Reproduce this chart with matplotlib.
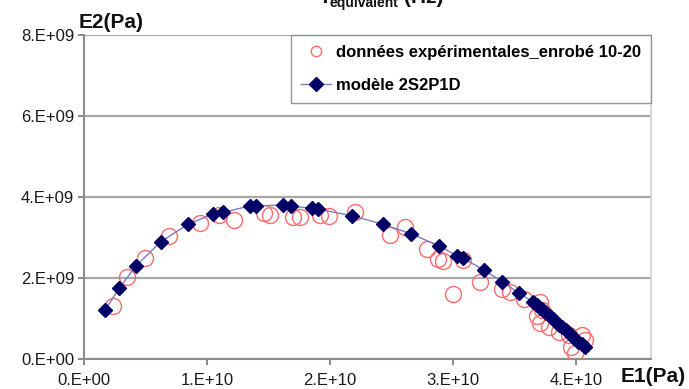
import matplotlib
matplotlib.use("Agg")
import matplotlib.pyplot as plt
from matplotlib.ticker import FixedLocator

plt.rcParams['font.family'] = ['Liberation Sans', 'DejaVu Sans']

# Experimental points (E1, E2) in Pa
exp_E1 = [2.38e9, 3.47e9, 4.96e9, 6.94e9, 9.4e9, 11.0e9, 12.2e9, 14.6e9, 15.1e9,
          17.0e9, 17.6e9, 19.2e9, 19.9e9, 22.0e9, 24.9e9, 26.1e9, 27.9e9, 28.75e9,
          29.2e9, 30.8e9, 30.0e9, 32.2e9, 33.96e9, 34.6e9, 35.8e9, 37.1e9, 36.8e9,
          37.1e9, 37.8e9, 38.6e9, 39.4e9, 40.5e9, 39.6e9, 39.9e9, 40.7e9, 37.2e9]
exp_E2 = [1.32e9, 2.02e9, 2.50e9, 3.03e9, 3.35e9, 3.55e9, 3.43e9, 3.60e9, 3.56e9,
          3.51e9, 3.50e9, 3.56e9, 3.53e9, 3.64e9, 3.06e9, 3.27e9, 2.72e9, 2.47e9,
          2.42e9, 2.44e9, 1.60e9, 1.91e9, 1.74e9, 1.66e9, 1.48e9, 1.41e9, 1.05e9,
          0.88e9, 0.80e9, 0.67e9, 0.59e9, 0.59e9, 0.30e9, 0.14e9, 0.47e9, 1.20e9]

# 2S2P1D model (E1, E2) in Pa
mod_E1 = [1.71e9, 2.87e9, 4.23e9, 6.26e9, 8.48e9, 10.5e9, 11.28e9, 13.5e9, 14.0e9,
          16.15e9, 16.8e9, 18.5e9, 19.05e9, 21.76e9, 24.3e9, 26.6e9, 28.9e9, 30.3e9,
          30.8e9, 32.5e9, 34.0e9, 35.4e9,
          36.5e9, 36.8e9, 37.05e9, 37.3e9, 37.6e9, 37.85e9, 38.1e9, 38.4e9, 38.65e9,
          38.9e9, 39.15e9, 39.4e9, 39.7e9, 39.95e9, 40.2e9, 40.45e9, 40.7e9]
mod_E2 = [1.21e9, 1.75e9, 2.30e9, 2.90e9, 3.33e9, 3.58e9, 3.62e9, 3.78e9, 3.78e9,
          3.80e9, 3.78e9, 3.72e9, 3.70e9, 3.54e9, 3.33e9, 3.09e9, 2.79e9, 2.55e9,
          2.49e9, 2.20e9, 1.91e9, 1.62e9,
          1.41e9, 1.34e9, 1.27e9, 1.20e9, 1.13e9, 1.06e9, 0.99e9, 0.92e9, 0.85e9,
          0.78e9, 0.71e9, 0.64e9, 0.57e9, 0.50e9, 0.43e9, 0.37e9, 0.30e9]

x_ticks = [0, 1e10, 2e10, 3e10, 4e10]
x_tick_labels = ["0.E+00", "1.E+10", "2.E+10", "3.E+10", "4.E+10"]
y_ticks = [0, 2e9, 4e9, 6e9, 8e9]
y_tick_labels = ["0.E+00", "2.E+09", "4.E+09", "6.E+09", "8.E+09"]

fig = plt.figure(figsize=(6.89, 3.89), dpi=100)
ax = fig.add_axes([84 / 689, 1 - 359 / 389, 567 / 689, 324 / 389])

ax.plot(exp_E1, exp_E2, linestyle='none', marker='o', markersize=11.5,
        markerfacecolor='none', markeredgecolor='#ff6b6b', markeredgewidth=1.0,
        label="données expérimentales_enrobé 10-20", zorder=3)
ax.plot(mod_E1, mod_E2, color='#7b7bc4', linewidth=1.0, marker='D',
        markersize=6.8, markerfacecolor='#000066', markeredgecolor='#000066',
        label="modèle 2S2P1D", zorder=4)

ax.set_xlim(0, 4.61e10)
ax.set_ylim(0, 8e9)
ax.xaxis.set_major_locator(FixedLocator(x_ticks))
ax.yaxis.set_major_locator(FixedLocator(y_ticks))
ax.set_xticklabels(x_tick_labels)
ax.set_yticklabels(y_tick_labels)
ax.tick_params(axis='both', labelsize=12, colors='#808080', labelcolor='#1a1a1a',
               length=4, width=1.3, direction='out')
ax.tick_params(axis='x', pad=6)
ax.tick_params(axis='y', pad=3)

ax.yaxis.grid(True, color='#a8a8a8', linewidth=1.6)
ax.set_axisbelow(True)
for side in ('left', 'bottom'):
    ax.spines[side].set_color('#8c8c8c')
    ax.spines[side].set_linewidth(1.5)
ax.spines['right'].set_color('#cfcfcf')
ax.spines['right'].set_linewidth(1.2)
ax.spines['top'].set_visible(False)

leg = ax.legend(loc='upper right', bbox_to_anchor=(1.0, 1.0), borderaxespad=0,
                fancybox=False, frameon=True, edgecolor='#7f7f7f',
                prop={'size': 12, 'weight': 'bold'}, labelspacing=1.05,
                borderpad=0.6, handlelength=1.8, handletextpad=0.3)
leg.get_frame().set_linewidth(1.0)
leg.set_zorder(6)
leg.legend_handles[0].set_markersize(7.5)

fig.text(79 / 689, 1 - 22 / 389, "E2(Pa)", fontsize=15, fontweight='bold',
         ha='left', va='center', color='#111111')
fig.text(686 / 689, 1 - 377 / 389, "E1(Pa)", fontsize=15, fontweight='bold',
         ha='right', va='center', color='#111111')

# Header partly outside the top edge
fig.text(322 / 689, 1 - 3 / 389, "f", fontsize=15, fontweight='bold',
         ha='left', va='baseline', color='#111111')
fig.text(329 / 689, 1 - 7 / 389, "equivalent", fontsize=10, fontweight='bold',
         ha='left', va='baseline', color='#111111')
fig.text(404 / 689, 1 - 3 / 389, "(Hz)", fontsize=15, fontweight='bold',
         ha='left', va='baseline', color='#111111')

fig.savefig("out.png", dpi=100)
